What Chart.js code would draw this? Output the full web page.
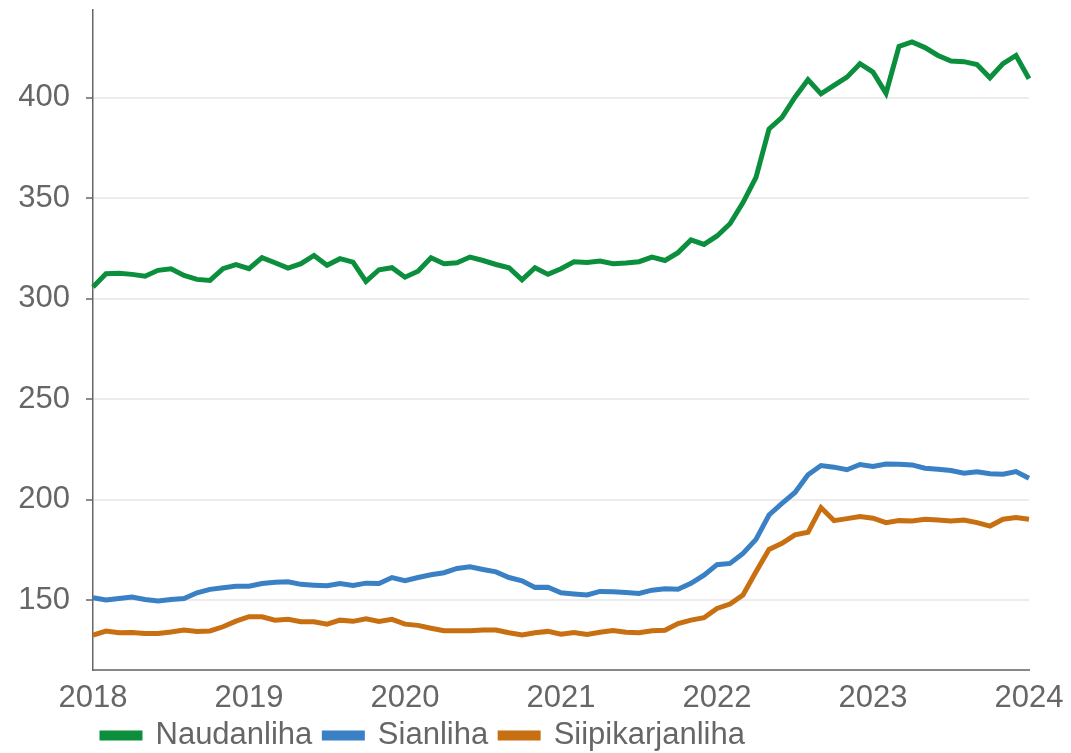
<!DOCTYPE html>
<html lang="fi">
<head>
    <meta charset="UTF-8">
    <title>Lihan hinnat</title>
    <script src="https://cdn.jsdelivr.net/npm/chart.js@4.4.1/dist/chart.umd.min.js"></script>
    <style>
        html, body { margin: 0; padding: 0; background: #fff; }
        .chart-box { position: relative; width: 1071px; height: 753px; }
    </style>
</head>
<body>
    <div class="chart-box">
        <canvas id="meatChart"></canvas>
    </div>

    <script>
        // Monthly data, Jan 2018 .. Jan 2024
        const years = ['2018', '2019', '2020', '2021', '2022', '2023', '2024'];
        const months = ['01', '02', '03', '04', '05', '06', '07', '08', '09', '10', '11', '12'];

        const naudanliha = [
            305.9, 312.5, 312.8, 312.2, 311.3, 314.2, 315.0, 311.7, 309.7, 309.2, 315.0, 317.0,
            315.0, 320.5, 318.0, 315.3, 317.5, 321.6, 316.7, 320.0, 318.3, 308.7, 314.5, 315.5,
            310.8, 313.8, 320.5, 317.5, 318.0, 320.8, 319.1, 317.1, 315.5, 309.5, 315.5, 312.2,
            315.0, 318.5, 318.1, 318.8, 317.5, 317.8, 318.5, 320.8, 319.1, 323.0, 329.3, 327.1,
            331.3, 337.4, 347.9, 360.4, 384.5, 390.3, 400.3, 409.0, 402.0, 406.2, 410.3, 417.0,
            412.8, 402.3, 425.6, 427.8, 425.0, 421.1, 418.3, 418.0, 416.6, 410.0, 417.0, 421.1,
            409.5
        ];
        const sianliha = [
            151.3, 150.2, 151.0, 151.7, 150.5, 149.7, 150.5, 151.0, 153.8, 155.5, 156.3, 157.1,
            157.1, 158.4, 159.1, 159.3, 158.0, 157.6, 157.3, 158.4, 157.5, 158.6, 158.4, 161.4,
            159.8, 161.4, 162.8, 163.8, 165.9, 166.7, 165.4, 164.2, 161.4, 159.8, 156.5, 156.6,
            153.8, 153.2, 152.7, 154.5, 154.3, 154.0, 153.5, 155.1, 155.8, 155.6, 158.5, 162.6,
            167.8, 168.4, 173.4, 180.4, 192.5, 198.3, 203.7, 212.5, 217.1, 216.3, 215.0, 217.6,
            216.6, 217.9, 217.8, 217.4, 215.8, 215.3, 214.6, 213.3, 214.0, 213.0, 212.8, 214.1,
            210.8
        ];
        const siipikarjanliha = [
            132.8, 134.8, 133.9, 134.1, 133.6, 133.6, 134.3, 135.3, 134.6, 134.8, 136.9, 139.7,
            141.9, 141.9, 140.2, 140.6, 139.4, 139.4, 138.2, 140.2, 139.6, 140.9, 139.6, 140.6,
            138.2, 137.6, 136.2, 134.9, 134.9, 134.9, 135.3, 135.3, 133.9, 132.8, 133.9, 134.6,
            133.2, 134.1, 133.1, 134.2, 135.0, 134.2, 133.9, 134.9, 135.2, 138.5, 140.2, 141.4,
            146.0, 148.2, 152.7, 164.3, 175.4, 178.4, 182.6, 183.9, 196.2, 189.7, 190.7, 191.7,
            190.9, 188.7, 189.7, 189.5, 190.4, 190.0, 189.5, 190.0, 188.7, 187.0, 190.4, 191.2,
            190.4
        ];
        const yTicks = [150, 200, 250, 300, 350, 400];

        // Build month labels like 2018-01 (last one is 2024-01)
        const monthLabels = [];
        years.forEach(y => {
            months.forEach(m => {
                if (monthLabels.length < naudanliha.length) monthLabels.push(y + '-' + m);
            });
        });

        const textColor = '#666';
        const fontFamily = '"Liberation Sans", Arial, Helvetica, sans-serif';

        // move legend so it starts under the plot, like in the original
        const legendShift = {
            id: 'legendShift',
            afterLayout(chart) {
                const lg = chart.legend;
                if (!lg) return;
                lg.left += 90;
                lg.top -= 10;
                lg.bottom -= 10;
            }
        };

        const ctx = document.getElementById('meatChart').getContext('2d');
        new Chart(ctx, {
            type: 'line',
            data: {
                labels: monthLabels,
                datasets: [
                    { label: 'Naudanliha', data: naudanliha, borderColor: '#0b8f3d', backgroundColor: '#0b8f3d' },
                    { label: 'Sianliha', data: sianliha, borderColor: '#3a80c4', backgroundColor: '#3a80c4' },
                    { label: 'Siipikarjanliha', data: siipikarjanliha, borderColor: '#c86f12', backgroundColor: '#c86f12' }
                ]
            },
            options: {
                responsive: true,
                maintainAspectRatio: false,
                animation: false,
                layout: { padding: { top: 10, right: 42, left: 0, bottom: -18 } },
                elements: {
                    point: { radius: 0 },
                    line: { borderWidth: 5, tension: 0, fill: false }
                },
                scales: {
                    x: {
                        type: 'category',
                        offset: false,
                        grid: { display: false, drawTicks: false },
                        border: { display: true, color: '#888', width: 2 },
                        ticks: {
                            autoSkip: false,
                            maxRotation: 0,
                            minRotation: 0,
                            padding: 10,
                            color: textColor,
                            font: { family: fontFamily, size: 31 },
                            callback: function(val, idx) {
                                const lab = monthLabels[idx];
                                return lab.endsWith('-01') ? lab.slice(0, 4) : null;
                            }
                        },
                        afterFit(scale) {
                            scale.height = 48;
                            scale.paddingLeft = 0;
                            scale.paddingRight = 0;
                        }
                    },
                    y: {
                        min: 115.4,
                        max: 443.7,
                        grid: { color: '#ececec', lineWidth: 2, tickLength: 7, tickColor: '#666', tickWidth: 1.5 },
                        border: { display: true, color: '#666', width: 1.5 },
                        ticks: {
                            padding: 16,
                            color: textColor,
                            font: { family: fontFamily, size: 31 }
                        },
                        afterBuildTicks(scale) {
                            scale.ticks = yTicks.map(v => ({ value: v }));
                        },
                        afterFit(scale) {
                            scale.width = 93;
                            scale.paddingTop = 0;
                            scale.paddingBottom = 0;
                        }
                    }
                },
                plugins: {
                    legend: {
                        position: 'bottom',
                        align: 'start',
                        labels: {
                            boxWidth: 38,
                            boxHeight: 5,
                            padding: 12,
                            color: textColor,
                            font: { family: fontFamily, size: 31 }
                        }
                    },
                    tooltip: { enabled: false }
                }
            },
            plugins: [legendShift]
        });
    </script>
</body>
</html>
